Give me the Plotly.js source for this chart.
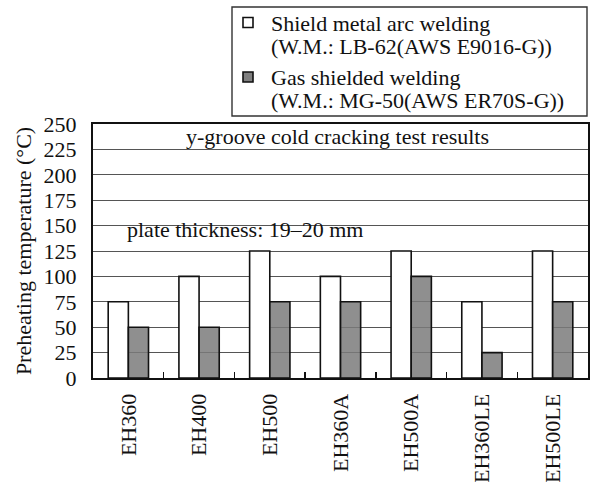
<!DOCTYPE html>
<html><head><meta charset="utf-8">
<script src="https://cdn.plot.ly/plotly-3.0.1.min.js"></script>
<style>body{margin:0;padding:0;background:#fff}#c{width:594px;height:482px}</style>
</head><body><div id="c"></div>
<script>
var categories = ["EH360","EH400","EH500","EH360A","EH500A","EH360LE","EH500LE"];
var smaw = [75,100,125,100,125,75,125];
var gmaw = [50,50,75,75,100,25,75];
var seriesNames = ["Shield metal arc welding","Gas shielded welding"];
var seriesSub = ["(W.M.: LB-62(AWS E9016-G))","(W.M.: MG-50(AWS ER70S-G))"];
var yTicks = [0,25,50,75,100,125,150,175,200,225,250];
var F = "Liberation Serif, Times New Roman, serif";
var colors = ['#ffffff','rgba(123,123,123,0.85)'];
var traces = [
 {type:'bar', x:categories, y:smaw, name:seriesNames[0], marker:{color:colors[0], line:{color:'#111', width:1.6}}},
 {type:'bar', x:categories, y:gmaw, name:seriesNames[1], marker:{color:colors[1], line:{color:'#111', width:1.6}}}
];
// px -> paper helpers (plot area 93..588 x, 378..124 y)
function px(x){return (x-93)/495;}
function py(y){return (378-y)/254;}
var shapes = [
 {type:'rect', xref:'paper', yref:'y', x0:px(110), x1:px(395), y0:142, y1:158, fillcolor:'#fff', line:{width:0}, layer:'below'},
 {type:'rect', xref:'paper', yref:'paper', x0:px(232), x1:px(587), y0:py(116), y1:py(7), fillcolor:'#fff', line:{color:'#333', width:1.4}}
];
var annotations = [
  {xref:'paper', yref:'y', x:px(337.5), xanchor:'center', y:237.5, text:'y-groove cold cracking test results', showarrow:false, font:{family:F, size:22}},
  {xref:'paper', yref:'y', x:px(244.5), xanchor:'center', y:150, yanchor:'middle', yshift:-4, text:'plate thickness: 19–20 mm', showarrow:false, font:{family:F, size:22}}
];
var symY = [22.5, 77], nameY = [23, 77.5], subY = [46.5, 100.5];
for (var i=0;i<2;i++){
  shapes.push({type:'rect', xref:'paper', yref:'paper', x0:px(243), x1:px(253), y0:py(symY[i]+5), y1:py(symY[i]-5),
    fillcolor:(i==0?'#fff':'#7f7f7f'), line:{color:'#111', width:1.6}});
  annotations.push({xref:'paper', yref:'paper', x:px(269), xanchor:'left', y:py(nameY[i]), yanchor:'middle', text:seriesNames[i], showarrow:false, font:{family:F, size:22}});
  annotations.push({xref:'paper', yref:'paper', x:px(269), xanchor:'left', y:py(subY[i]), yanchor:'middle', text:seriesSub[i], showarrow:false, font:{family:F, size:22}});
}
var layout = {
 width:594, height:482,
 margin:{l:93, r:6, t:124, b:104, autoexpand:false},
 paper_bgcolor:'#fff', plot_bgcolor:'#fff',
 font:{family:F, size:22, color:'#111'},
 barmode:'group', bargap:0.43, bargroupgap:0,
 showlegend:false,
 xaxis:{type:'category', showline:true, linecolor:'#111', linewidth:2, mirror:true,
   ticks:'inside', tickson:'boundaries', ticklen:6, tickcolor:'#111', tickwidth:1.5,
   tickangle:-90, tickfont:{family:F, size:22}, showgrid:false, ticklabelstandoff:5},
 yaxis:{range:[0,250], tickvals:yTicks, showline:true, linecolor:'#111', linewidth:2, mirror:true,
   ticks:'', showgrid:true, gridcolor:'#555', gridwidth:1, zeroline:false,
   tickfont:{family:F, size:22}, ticklabelstandoff:10,
   title:{text:'Preheating temperature (°C)', font:{family:F, size:22}, standoff:6}},
 shapes:shapes,
 annotations:annotations
};
Plotly.newPlot('c', traces, layout, {displayModeBar:false, staticPlot:true});
</script></body></html>
